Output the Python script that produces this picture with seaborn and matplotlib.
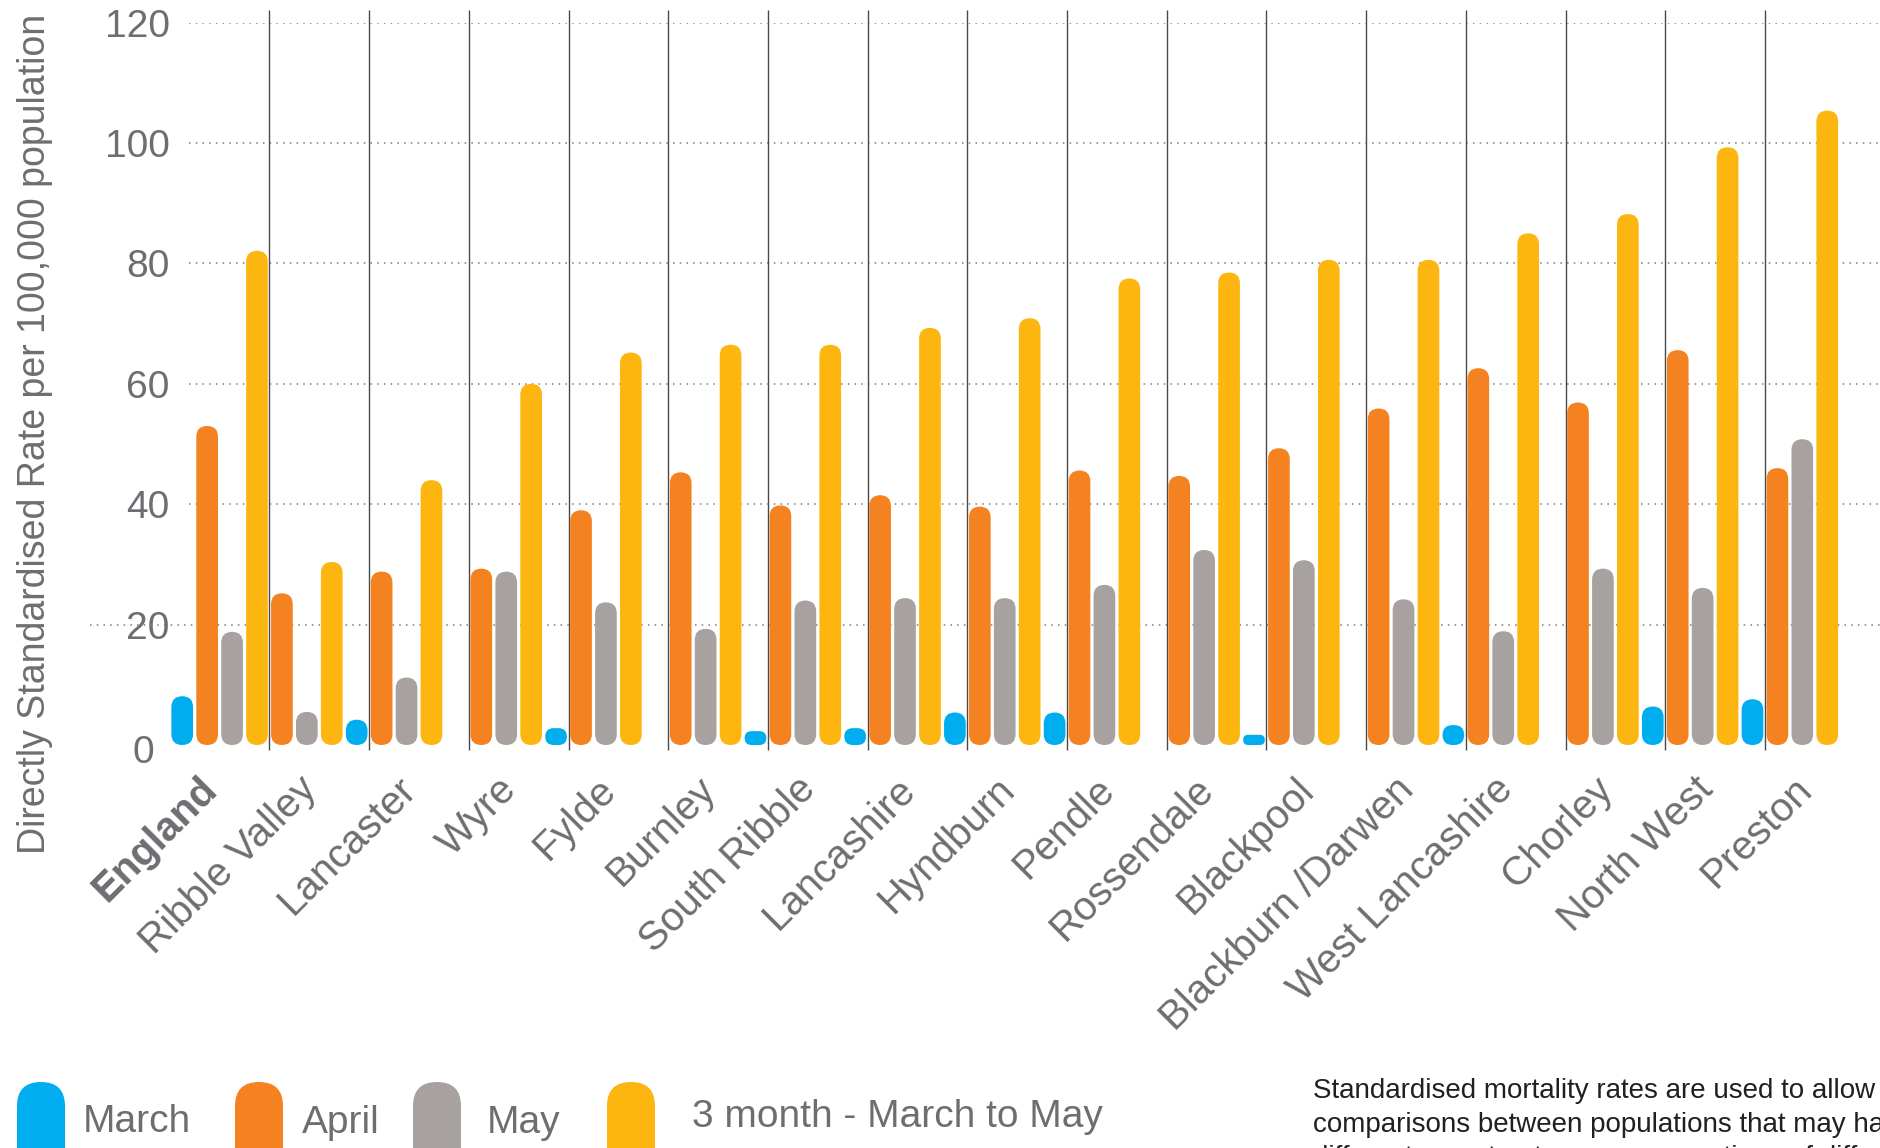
import numpy as np
import pandas as pd
import matplotlib
matplotlib.use("Agg")
import matplotlib.pyplot as plt
import seaborn as sns
from matplotlib.patches import FancyBboxPatch, Rectangle
from matplotlib.transforms import IdentityTransform, ScaledTranslation

# ---------------- data ----------------
areas = ["England", "Ribble Valley", "Lancaster", "Wyre", "Fylde", "Burnley",
         "South Ribble", "Lancashire", "Hyndburn", "Pendle", "Rossendale",
         "Blackpool", "Blackburn /Darwen", "West Lancashire", "Chorley",
         "North West", "Preston"]
nan = np.nan
march = [8.1, nan, 4.2, nan, 2.8, nan, 2.3, 2.8, 5.4, 5.4, nan, 1.7, nan, 3.3, nan, 6.4, 7.6]
april = [53.0, 25.2, 28.8, 29.3, 39.0, 45.3, 39.8, 41.5, 39.6, 45.6, 44.7, 49.3, 55.9, 62.6, 56.9, 65.6, 46.0]
may = [18.8, 5.5, 11.2, 28.8, 23.7, 19.3, 24.0, 24.4, 24.4, 26.6, 32.4, 30.7, 24.2, 18.9, 29.3, 26.1, 50.8]
three_month = [82.1, 30.4, 44.0, 60.0, 65.2, 66.5, 66.5, 69.3, 70.9, 77.5, 78.5, 80.6, 80.6, 85.0, 88.2, 99.3, 105.4]

series = ["March", "April", "May", "3 month - March to May"]
colors = ["#00AEEF", "#F58220", "#A7A29F", "#FDB50F"]
y_ticks = [0, 20, 40, 60, 80, 100, 120]
y_label = "Directly Standardised Rate per 100,000 population"
note_lines = ["Standardised mortality rates are used to allow",
              "comparisons between populations that may have",
              "different age structures, or proportions of different ages"]

df = pd.DataFrame({"area": areas, series[0]: march, series[1]: april,
                   series[2]: may, series[3]: three_month})
long = df.melt(id_vars="area", var_name="series", value_name="rate").dropna()

# ---------------- style / layout ----------------
sns.set_theme(style="white")
plt.rcParams["font.family"] = ["Liberation Sans", "DejaVu Sans"]
GRAY = "#6D6E71"

W, H = 1880, 1148
fig = plt.figure(figsize=(W / 100, H / 100), dpi=100)
AX_LEFT, AX_BOTTOM, AX_TOP = 160, 745, 22.7          # pixels
CAT0_PX, CAT_PX = 219.6, 99.7                         # first category centre, category pitch
ax = fig.add_axes([AX_LEFT / W, 1 - AX_BOTTOM / H, 1 - AX_LEFT / W, (AX_BOTTOM - AX_TOP) / H])

sns.barplot(data=long, x="area", y="rate", hue="series", order=areas,
            hue_order=series, palette=colors, saturation=1, width=1.0, gap=0.13,
            errorbar=None, legend=False, ax=ax, zorder=3)

px2cat = lambda px: (px - CAT0_PX) / CAT_PX
xlim = (px2cat(AX_LEFT), px2cat(W))
ax.set_xlim(*xlim)
ax.set_ylim(0, 120)

# rounded (pill) bars built from seaborn's bars
ppx = (W - AX_LEFT) / (xlim[1] - xlim[0])
ppy = (AX_BOTTOM - AX_TOP) / 120.0
slot = 1.0 / len(series)
for p in [q for q in ax.patches if isinstance(q, Rectangle)]:
    x, w, h = p.get_x(), p.get_width(), p.get_height()
    fc = p.get_facecolor()
    p.remove()
    if not np.isfinite(h) or h <= 0:
        continue
    k = int(round(x + w / 2))
    # in the reference, every group after England sits one bar-slot to the left
    shift = 0.0 if k == 0 else -slot
    r_px = min(w * ppx, h * ppy) / 2
    ax.add_patch(FancyBboxPatch((x + shift, 0), w, h,
                                boxstyle=f"round,pad=0,rounding_size={r_px / ppx}",
                                mutation_aspect=ppx / ppy, fc=fc, ec="none", zorder=3))

# dotted gridlines
dot = (0, (1, 3.4))
ax.hlines(y_ticks[2:], px2cat(189), xlim[1], colors="#7A7A7A", linestyles=dot,
          linewidth=1.1, zorder=1)
ax.hlines([y_ticks[1]], px2cat(90), xlim[1], colors="#7A7A7A", linestyles=dot,
          linewidth=1.1, zorder=1, clip_on=False)

# vertical separators between areas
ax.vlines(np.arange(len(areas) - 1) + 0.5, -0.85, 122.1, colors="#4A4A4A",
          linewidth=1.0, zorder=2, clip_on=False)

# ticks (label anchors sit slightly left of the category centre, as in the reference)
ax.set_xticks(np.arange(len(areas)) - 0.22)
ax.set_xticklabels(areas, rotation=45, ha="right", rotation_mode="anchor",
                   fontsize=29, color=GRAY)
ax.get_xticklabels()[0].set_fontweight("bold")
ax.tick_params(axis="x", length=0, pad=18)
ax.set_yticks(y_ticks)
ax.set_yticklabels([str(v) for v in y_ticks], fontsize=28, color=GRAY)
ax.tick_params(axis="y", length=0, pad=-7)
zero_lbl = ax.get_yticklabels()[0]
zero_lbl.set_transform(zero_lbl.get_transform() + ScaledTranslation(-0.16, -0.04, fig.dpi_scale_trans))
ax.set_xlabel("")
ax.set_ylabel("")
ax.grid(False)
for s in ax.spines.values():
    s.set_visible(False)

fig.text(35 / W, 1 - 434 / H, y_label, rotation=90, ha="center", va="center",
         fontsize=27, color=GRAY)

# legend (pill markers, cut by the bottom edge)
pill_x = [17, 235, 413, 607]
text_x = [83, 302, 487, 692]
text_base = [1132, 1133, 1133, 1127]
pill_w, pill_top = 48, 1082
for px, tx, tb, c, name in zip(pill_x, text_x, text_base, colors, series):
    fig.add_artist(FancyBboxPatch((px, -80), pill_w, (H - pill_top) + 80,
                                  boxstyle=f"round,pad=0,rounding_size={pill_w / 2}",
                                  transform=IdentityTransform(), fc=c, ec="none"))
    fig.text(tx / W, 1 - tb / H, name, ha="left", va="baseline", fontsize=28, color=GRAY)

# explanatory note (runs off the figure edge as in the reference)
for i, line in enumerate(note_lines):
    fig.text(1313 / W, 1 - (1098 + 33.5 * i) / H, line, ha="left", va="baseline",
             fontsize=20, color="#231F20")

fig.savefig("out.png", dpi=100)
